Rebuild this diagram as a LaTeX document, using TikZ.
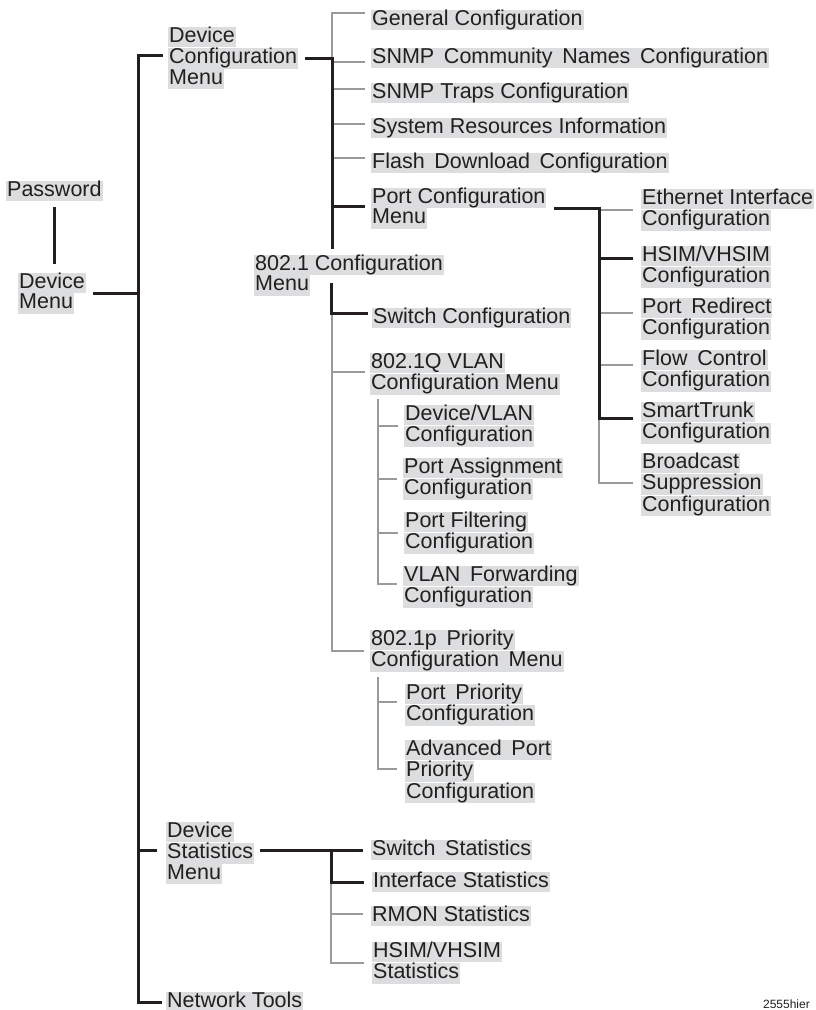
\documentclass[tikz,border=0pt]{standalone}
\usepackage{fontspec}
\setmainfont{Liberation Sans}
\usetikzlibrary{calc}
\definecolor{ink}{HTML}{231F20}
\definecolor{boxgray}{HTML}{DCDDDE}
\definecolor{linegray}{HTML}{9A9A9A}
\newcommand\hl[1]{{\setlength{\fboxsep}{0pt}\colorbox{boxgray}{\rule[-5pt]{0pt}{20.5pt}\hspace{1pt}#1\hspace{1pt}}}}
\newcommand\ws{\hspace{0.45em}}
\begin{document}
\begin{tikzpicture}[x=1pt,y=-1pt,
  txt/.style={anchor=north west,inner sep=0pt,align=left,text=ink,font=\fontsize{21.5}{20.5}\selectfont},
  blk/.style={draw=ink,line width=3pt},
  gl/.style={draw=linegray,line width=2pt}]
\useasboundingbox (0,0) rectangle (815,1010);
\coordinate (spx1) at (138,0);
\coordinate (spx2) at (332,0);
\coordinate (spx3) at (378,0);
\coordinate (spx4) at (599,0);
\coordinate (spx5) at (331,0);
% nodes
\node[txt] (pw) at (6,180.5) {\hl{Password}};
\node[txt] (dm) at (18,272.5) {\hl{Device}\\\hl{Menu}};
\node[txt] (dcm) at (168,26.5) {\hl{Device}\\\hl{Configuration}\\\hl{Menu}};
\node[txt] (gc) at (371,9.5) {\hl{General Configuration}};
\node[txt] (snc) at (371,47.5) {\hl{SNMP\ws Community\ws Names\ws Configuration}};
\node[txt] (snt) at (371,82.5) {\hl{SNMP Traps Configuration}};
\node[txt] (sri) at (371,117.5) {\hl{System Resources Information}};
\node[txt] (fdc) at (371,152.5) {\hl{Flash\ws Download\ws Configuration}};
\node[txt] (pcm) at (371,187.5) {\hl{Port Configuration}\\\hl{Menu}};
\node[txt] (c8021) at (254,254.5) {\hl{802.1 Configuration}\\\hl{Menu}};
\node[txt] (swc) at (372,307.5) {\hl{Switch Configuration}};
\node[txt] (vlan) at (370,352.5) {\hl{802.1Q VLAN}\\\hl{Configuration Menu}};
\node[txt] (dv) at (404,404.5) {\hl{Device/VLAN}\\\hl{Configuration}};
\node[txt] (pa) at (403,457.5) {\hl{Port Assignment}\\\hl{Configuration}};
\node[txt] (pf) at (404,511.5) {\hl{Port Filtering}\\\hl{Configuration}};
\node[txt] (vf) at (403,565.5) {\hl{VLAN\ws Forwarding}\\\hl{Configuration}};
\node[txt] (prio) at (370,629.5) {\hl{802.1p\ws Priority}\\\hl{Configuration\ws Menu}};
\node[txt] (pp) at (405,683.5) {\hl{Port\ws Priority}\\\hl{Configuration}};
\node[txt] (app) at (405,739.5) {\hl{Advanced\ws Port}\\\hl{Priority}\\\hl{Configuration}};
\node[txt] (eth) at (641,188.5) {\hl{Ethernet Interface}\\\hl{Configuration}};
\node[txt] (hsim) at (641,245.5) {\hl{HSIM/VHSIM}\\\hl{Configuration}};
\node[txt] (pr) at (641,297.5) {\hl{Port\ws Redirect}\\\hl{Configuration}};
\node[txt] (fc) at (641,349.5) {\hl{Flow\ws Control}\\\hl{Configuration}};
\node[txt] (st) at (641,401.5) {\hl{SmartTrunk}\\\hl{Configuration}};
\node[txt] (bs) at (641,452.5) {\hl{Broadcast}\\\hl{Suppression}\\\hl{Configuration}};
\node[txt] (dsm) at (166,821.5) {\hl{Device}\\\hl{Statistics}\\\hl{Menu}};
\node[txt] (sws) at (371,839.5) {\hl{Switch\ws Statistics}};
\node[txt] (ifs) at (372,871.5) {\hl{Interface Statistics}};
\node[txt] (rmon) at (371,905.5) {\hl{RMON Statistics}};
\node[txt] (hss) at (372,941.5) {\hl{HSIM/VHSIM}\\\hl{Statistics}};
\node[txt] (nt) at (166,991.5) {\hl{Network Tools}};
\node[anchor=base east,inner sep=0pt,text=ink,font=\fontsize{12}{14}\selectfont] (tag) at (810,1008) {2555hier};
% Password - Device Menu
\draw[blk] ($(pw.south)+(0,6)$) -- ($(pw.south |- dm.north)+(0,-9)$);
% main spine
\draw[blk] ($(dcm.west)+(-5,-3)$) -| (nt.west -| spx1) -- ($(nt.west)+(-4,0)$);
\draw[blk] ($(dm.east)+(7,0)$) -- (dm.east -| spx1);
\draw[blk] ($(dsm.west)+(-9,-3)$) -- ($(dsm.west -| spx1)+(0,-3)$);
% device configuration subtree
\draw[gl] ($(gc.west)+(-6,-7)$) -| (dcm.east -| spx2);
\draw[gl] ($(snc.west)+(-6,4)$) -- ($(snc.west -| spx2)+(0,4)$);
\draw[gl] ($(snt.west)+(-6,-4)$) -- ($(snt.west -| spx2)+(0,-4)$);
\draw[gl] ($(sri.west)+(-6,-4)$) -- ($(sri.west -| spx2)+(0,-4)$);
\draw[gl] ($(fdc.west)+(-6,-5)$) -- ($(fdc.west -| spx2)+(0,-5)$);
\draw[blk] ($(dcm.east)+(7,0)$) -- (dcm.east -| spx2) -- ($(c8021.north -| spx2)+(0,-6)$);
\draw[blk] ($(pcm.west)+(-6,-2)$) -- ($(pcm.west -| spx2)+(0,-2)$);
% 802.1 subtree
\draw[gl] ($(swc.west -| spx2)+(0,-4)$) |- ($(prio.west)+(-6,0)$);
\draw[gl] ($(vlan.west -| spx2)+(0,-2)$) -- ($(vlan.west)+(-5,-2)$);
\draw[blk] ($(c8021.south -| spx5)+(0,-13)$) |- ($(swc.west)+(-4,-4)$);
% VLAN subtree
\draw[gl] ($(vlan.south -| spx3)+(0,4)$) |- ($(vf.west)+(-6,-3)$);
\foreach \n in {dv,pa,pf} \draw[gl] (\n.west -| spx3) -- ($(\n.west)+(-6,0)$);
% priority subtree
\draw[gl] ($(prio.south -| spx3)+(0,5)$) |- ($(app.west)+(-8,-3)$);
\draw[gl] ($(pp.west -| spx3)+(0,-3)$) -- ($(pp.west)+(-8,-3)$);
% port configuration subtree
\draw[gl] ($(st.west -| spx4)+(0,-4)$) |- ($(bs.west)+(-8,-2)$);
\draw[gl] (eth.west -| spx4) -- ($(eth.west)+(-8,0)$);
\draw[gl] ($(pr.west -| spx4)+(0,-6)$) -- ($(pr.west)+(-8,-6)$);
\draw[gl] ($(fc.west -| spx4)+(0,-6)$) -- ($(fc.west)+(-8,-6)$);
\draw[blk] ($(pcm.east)+(7,0)$) -| ($(st.west -| spx4)+(0,-4)$) -- ($(st.west)+(-8,-4)$);
\draw[blk] ($(hsim.west -| spx4)+(0,-8)$) -- ($(hsim.west)+(-8,-8)$);
% statistics subtree
\draw[gl] (ifs.west -| spx5) |- ($(hss.west)+(-8,0)$);
\draw[gl] ($(rmon.west -| spx5)+(0,-2)$) -- ($(rmon.west)+(-8,-2)$);
\draw[blk] ($(sws.west -| dsm.east)+(6,0)$) -- ($(sws.west)+(-8,0)$);
\draw[blk] (sws.west -| spx5) |- ($(ifs.west)+(-8,0)$);
\end{tikzpicture}
\end{document}
